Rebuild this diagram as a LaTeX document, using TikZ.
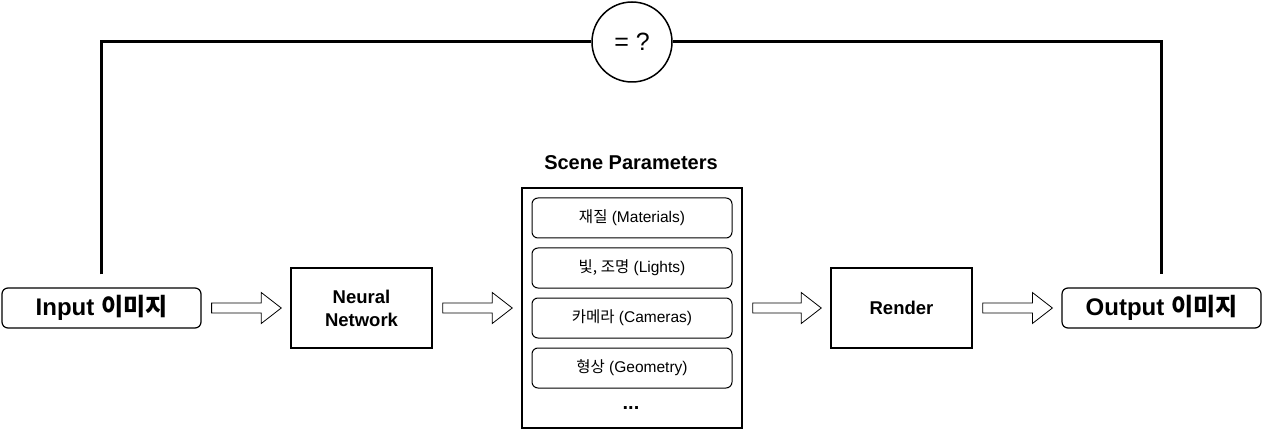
\documentclass[tikz,border=0pt]{standalone}
\usepackage{fontspec}
\setmainfont{Liberation Sans}
\newfontfamily\kr{Noto Sans CJK KR}
\usetikzlibrary{calc}
\tikzset{
  x=1pt,y=-1pt,
  termbox/.style={draw,line width=1.2pt,rounded corners=6pt,minimum width=199pt,minimum height=40pt,inner sep=0pt,font=\fontsize{24}{28}\selectfont\bfseries},
  procbox/.style={draw,line width=1.5pt,minimum width=141pt,minimum height=80pt,inner sep=0pt,align=center,font=\fontsize{18.5}{23}\selectfont\bfseries},
  parambox/.style={draw,line width=1pt,rounded corners=6pt,minimum width=200pt,minimum height=40pt,inner sep=0pt,font=\fontsize{15.5}{18}\selectfont},
  framebox/.style={draw,line width=1.5pt,minimum width=220pt,minimum height=240pt,inner sep=0pt},
  eqcircle/.style={draw,circle,line width=1.5pt,minimum size=80pt,inner sep=0pt,font=\fontsize{25}{28}\selectfont},
  loopline/.style={line width=3pt,line join=miter},
  hollowarrow/.style={draw,line width=0.8pt,fill=white,line join=miter},
}
\newcommand{\blockarrow}[2]{%
  \path[hollowarrow] let \p1=($(#1.east)+(10pt,0pt)$), \p2=($(#2.west)+(-9pt,0pt)$) in
    (\x1,\y1+5pt) -- (\x2-20pt,\y1+5pt) -- (\x2-20pt,\y1+15.5pt) -- (\x2,\y1) --
    (\x2-20pt,\y1-15.5pt) -- (\x2-20pt,\y1-5pt) -- (\x1,\y1-5pt) -- cycle;}
\begin{document}
\begin{tikzpicture}
\useasboundingbox (0,0) rectangle (1263,430);
\node[termbox] (in) at (101.5,308) {Input {\kr 이미지}};
\node[procbox] (nn) at (361.5,308) {Neural\\Network};
\node[framebox] (sp) at (632,308) {};
\node[font=\fontsize{20}{24}\selectfont\bfseries] (sptitle) at (631,163) {Scene Parameters};
\node[parambox] (p1) at (632,218) {{\kr 재질} (Materials)};
\node[parambox] (p2) at (632,268) {{\kr 빛, 조명} (Lights)};
\node[parambox] (p3) at (632,318) {{\kr 카메라} (Cameras)};
\node[parambox] (p4) at (632,368) {{\kr 형상} (Geometry)};
\node[font=\fontsize{20}{24}\selectfont\bfseries] (dots) at (631,408) {...};
\node[procbox] (rd) at (901.5,308) {Render};
\node[termbox] (out) at (1161.5,308) {Output {\kr 이미지}};
\node[eqcircle] (eq) at (632,42) {= ?};
\blockarrow{in}{nn}
\blockarrow{nn}{sp}
\blockarrow{sp}{rd}
\blockarrow{rd}{out}
\draw[loopline] ($(in.north)+(0pt,13pt)$) |- (eq.west);
\draw[loopline] (eq.east) -| ($(out.north)+(0pt,13pt)$);
\end{tikzpicture}
\end{document}
